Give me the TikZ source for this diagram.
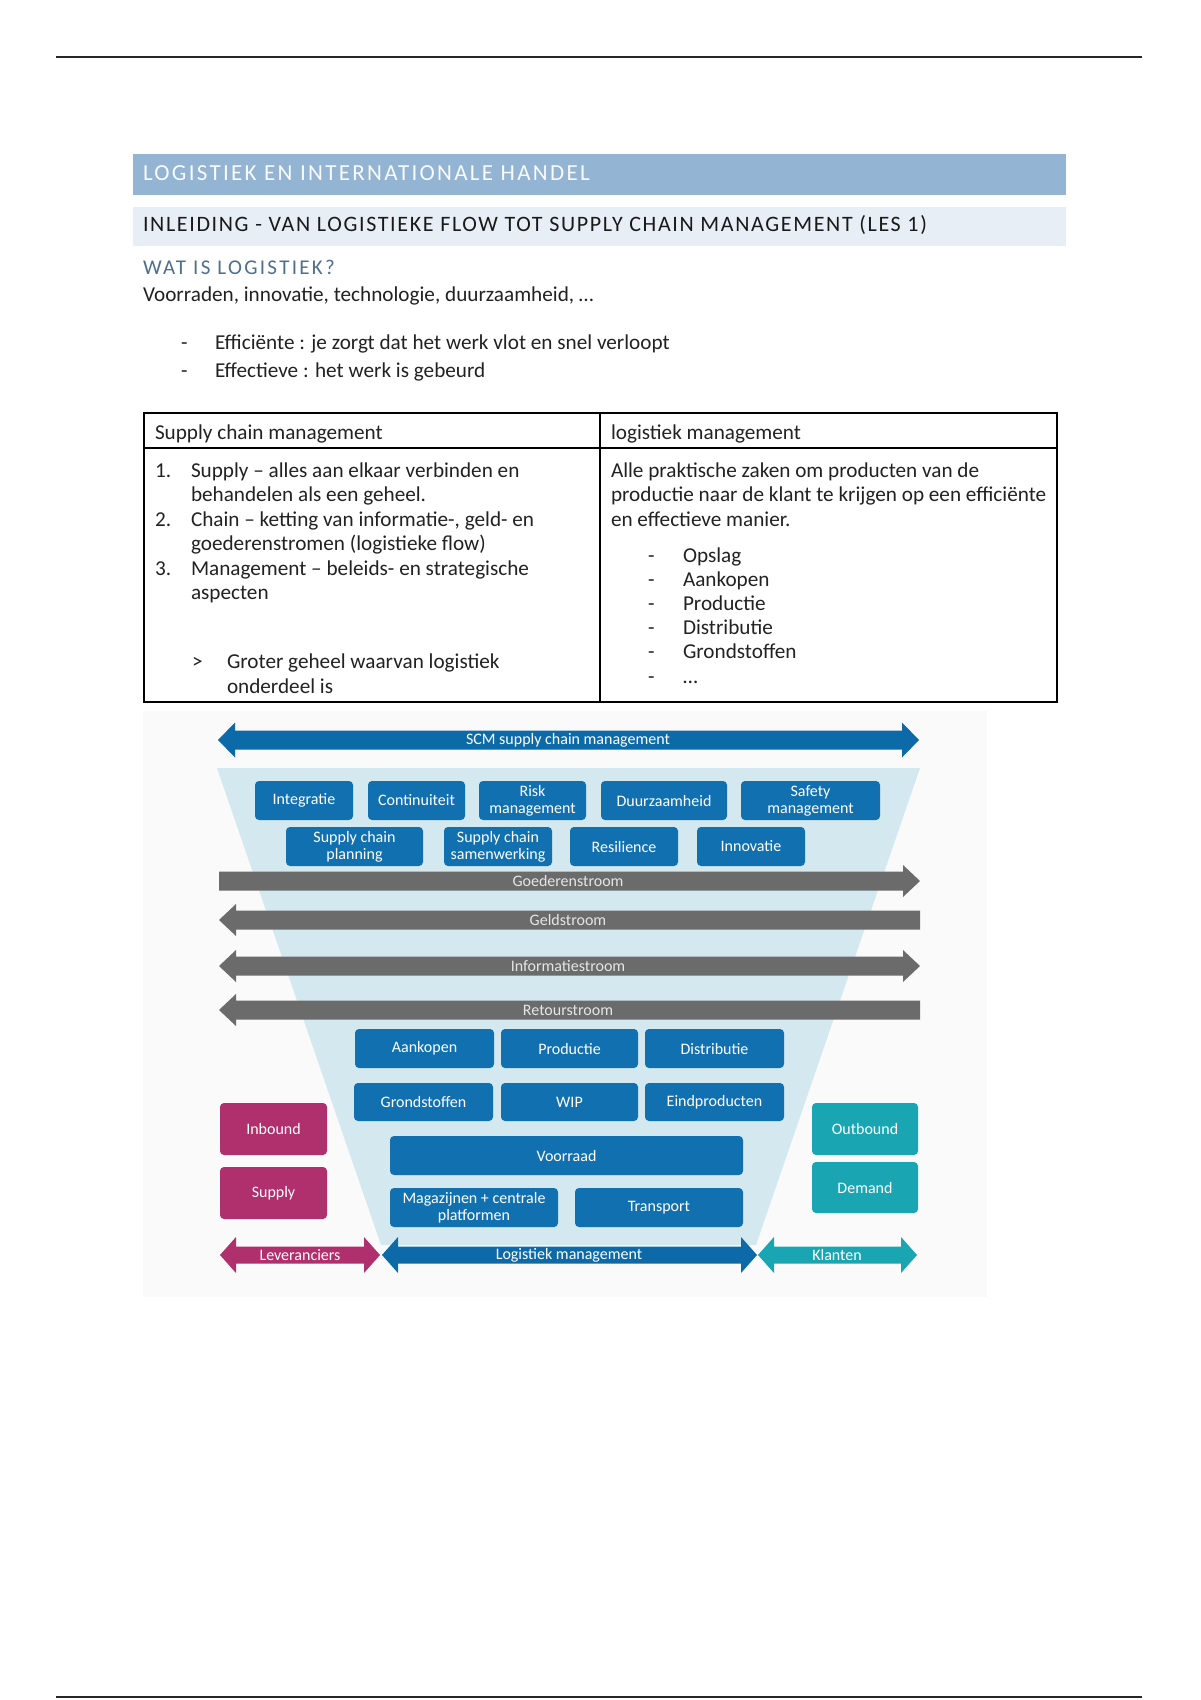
\documentclass[tikz,border=0pt]{standalone}
\usepackage{fontspec}
\setmainfont{Carlito}
\definecolor{txt}{HTML}{222222}
\definecolor{hbarA}{HTML}{93B4D2}
\definecolor{hbarB}{HTML}{E8EEF6}
\definecolor{hthree}{HTML}{4E6F8F}
\definecolor{diagbg}{HTML}{FAFAFA}
\definecolor{funnel}{HTML}{D4E8EF}
\definecolor{bblue}{HTML}{1170B0}
\definecolor{ablue}{HTML}{0D6AA9}
\definecolor{agray}{HTML}{6B6B6B}
\definecolor{mag}{HTML}{B02F6D}
\definecolor{teal}{HTML}{19A5B1}
\newcommand\mybox[7]{\node[bx, fill=#6, minimum width={(#4-#2)*0.5pt}, minimum height={(#5-#3)*0.5pt}] (#1) at ({(#2+#4)/2},{(#3+#5)/2}) {#7};}
\newcommand\myDarrow[7]{\fill[#1] (#2,#4) -- ({#2+#7},{#4-#6}) -- ({#2+#7},{#4-#5}) -- ({#3-#7},{#4-#5}) -- ({#3-#7},{#4-#6}) -- (#3,#4) -- ({#3-#7},{#4+#6}) -- ({#3-#7},{#4+#5}) -- ({#2+#7},{#4+#5}) -- ({#2+#7},{#4+#6}) -- cycle;}
\newcommand\myRarrow[7]{\fill[#1] (#2,{#4-#5}) -- ({#3-#7},{#4-#5}) -- ({#3-#7},{#4-#6}) -- (#3,#4) -- ({#3-#7},{#4+#6}) -- ({#3-#7},{#4+#5}) -- (#2,{#4+#5}) -- cycle;}
\newcommand\myLarrow[7]{\fill[#1] (#3,{#4-#5}) -- ({#2+#7},{#4-#5}) -- ({#2+#7},{#4-#6}) -- (#2,#4) -- ({#2+#7},{#4+#6}) -- ({#2+#7},{#4+#5}) -- (#3,{#4+#5}) -- cycle;}
\begin{document}
\begin{tikzpicture}[x=0.5pt,y=-0.5pt,
  every node/.style={inner sep=0pt,outer sep=0pt},
  ptxt/.style={anchor=base west, text=txt, font=\fontsize{10.6}{12}\selectfont},
  bx/.style={rectangle, rounded corners=2pt, text=white, align=center, font=\fontsize{8}{8.4}\selectfont},
  albl/.style={text=white, font=\fontsize{8}{9}\selectfont},
  glbl/.style={text=black!10, font=\fontsize{8}{9}\selectfont}]
\useasboundingbox (0,0) rectangle (1200,1700);
\fill[white] (0,0) rectangle (1200,1700);
% page rules
\draw[line width=0.9pt, black!85] (56,57) -- (1142,57);
\draw[line width=0.9pt, black!85] (56,1697) -- (1142,1697);
% headers
\fill[hbarA] (133,154) rectangle (1066,195);
\node[anchor=base west, text=white!94!hbarA, font=\fontsize{11.5}{12}\selectfont\addfontfeature{LetterSpace=10}] (h1) at (143,181) {LOGISTIEK EN INTERNATIONALE HANDEL};
\fill[hbarB] (133,207) rectangle (1066,246);
\node[anchor=base west, text=black!90, font=\fontsize{11}{12}\selectfont\addfontfeature{LetterSpace=7.5}] (h2) at (143,232) {INLEIDING - VAN LOGISTIEKE FLOW TOT SUPPLY CHAIN MANAGEMENT (LES 1)};
\node[anchor=base west, text=hthree, font=\fontsize{10.5}{12}\selectfont\addfontfeature{LetterSpace=11}] (h3) at (143,275) {WAT IS LOGISTIEK?};
\node[ptxt] (p1) at (143,302) {Voorraden, innovatie, technologie, duurzaamheid, …};
\node[ptxt] (d1) at (181,350) {-};
\node[ptxt] (b1) at (215,350) {Efficiënte : je zorgt dat het werk vlot en snel verloopt};
\node[ptxt] (d2) at (181,378) {-};
\node[ptxt] (b2) at (215,378) {Effectieve : het werk is gebeurd};
% table
\draw[line width=1pt] (144,413) rectangle (1057,702);
\draw[line width=1pt] (144,448) -- (1057,448);
\draw[line width=1pt] (600,413) -- (600,702);
\node[ptxt] (th1) at (155,439) {Supply chain management};
\node[ptxt] (th2) at (611,439) {logistiek management};
\node[ptxt] (n1) at (155,477) {1.};
\node[ptxt] (l1) at (191,477) {Supply – alles aan elkaar verbinden en};
\node[ptxt] (l2) at (191,501.5) {behandelen als een geheel.};
\node[ptxt] (n2) at (155,526) {2.};
\node[ptxt] (l3) at (191,526) {Chain – ketting van informatie-, geld- en};
\node[ptxt] (l4) at (191,550.5) {goederenstromen (logistieke flow)};
\node[ptxt] (n3) at (155,575) {3.};
\node[ptxt] (l5) at (191,575) {Management – beleids- en strategische};
\node[ptxt] (l6) at (191,599.5) {aspecten};
\node[ptxt] (gt) at (192,668) {>};
\node[ptxt] (l7) at (227,668) {Groter geheel waarvan logistiek};
\node[ptxt] (l8) at (227,693) {onderdeel is};
\node[ptxt] (r1) at (611,477) {Alle praktische zaken om producten van de};
\node[ptxt] (r2) at (611,501.5) {productie naar de klant te krijgen op een efficiënte};
\node[ptxt] (r3) at (611,526) {en effectieve manier.};
\foreach \yy/\tt [count=\i] in {562/Opslag,586/Aankopen,610/Productie,634/Distributie,658/Grondstoffen,683/…}{
  \node[ptxt] (rd\i) at (648,\yy) {-};
  \node[ptxt] (ri\i) at (683,\yy) {\tt};
}
% diagram
\fill[diagbg] (143,711) rectangle (987,1297);
\fill[funnel] (217,768) -- (920,768) -- (756,1245) -- (381,1245) -- cycle;
\myDarrow{ablue}{218}{919}{740}{9.5}{17.5}{17}
\node[albl] (scm) at (568,740) {SCM supply chain management};
\mybox{integ}{255}{781}{353}{820}{bblue}{Integratie}
\mybox{conti}{368}{781}{465}{820}{bblue}{Continuiteit}
\mybox{risk}{479}{781}{586}{820}{bblue}{Risk\\management}
\mybox{duur}{601}{781}{727}{820}{bblue}{Duurzaamheid}
\mybox{safety}{741}{781}{880}{820}{bblue}{Safety\\management}
\mybox{scp}{286}{827}{423}{866}{bblue}{Supply chain\\planning}
\mybox{scs}{444}{827}{552}{866}{bblue}{Supply chain\\samenwerking}
\mybox{resil}{570}{827}{678}{866}{bblue}{Resilience}
\mybox{innov}{697}{827}{805}{866}{bblue}{Innovatie}
\myRarrow{agray}{219}{920}{881}{9.5}{16}{17}
\node[glbl] (goed) at (568,881) {Goederenstroom};
\myLarrow{agray}{219}{920}{920}{9.5}{16}{17}
\node[glbl] (geld) at (568,920) {Geldstroom};
\myDarrow{agray}{219}{920}{966}{9.5}{16}{17}
\node[glbl] (info) at (568,966) {Informatiestroom};
\myLarrow{agray}{219}{920}{1010}{9.5}{16}{17}
\node[glbl] (retour) at (568,1010) {Retourstroom};
\mybox{aank}{355}{1029}{494}{1068}{bblue}{Aankopen}
\mybox{prod}{501}{1029}{638}{1068}{bblue}{Productie}
\mybox{distr}{645}{1029}{784}{1068}{bblue}{Distributie}
\mybox{grond}{354}{1083}{493}{1121}{bblue}{Grondstoffen}
\mybox{wip}{501}{1083}{638}{1121}{bblue}{WIP}
\mybox{eind}{645}{1083}{784}{1121}{bblue}{Eindproducten}
\mybox{voor}{390}{1136}{743}{1175}{bblue}{Voorraad}
\mybox{maga}{390}{1188}{558}{1227}{bblue}{Magazijnen + centrale\\platformen}
\mybox{trans}{575}{1188}{743}{1227}{bblue}{Transport}
\mybox{inb}{220}{1103}{327}{1155}{mag}{Inbound}
\mybox{supp}{220}{1167}{327}{1219}{mag}{Supply}
\mybox{outb}{812}{1103}{918}{1155}{teal}{Outbound}
\mybox{dem}{812}{1162}{918}{1213}{teal}{Demand}
\myDarrow{mag}{220}{380}{1255}{8.5}{18}{16}
\node[albl] (lev) at (300,1255) {Leveranciers};
\myDarrow{ablue}{382}{757}{1255}{8.5}{18}{16}
\node[albl] (logm) at (569,1255) {Logistiek management};
\myDarrow{teal}{758}{917}{1255}{8.5}{18}{16}
\node[albl] (klant) at (837,1255) {Klanten};
\end{tikzpicture}
\end{document}
